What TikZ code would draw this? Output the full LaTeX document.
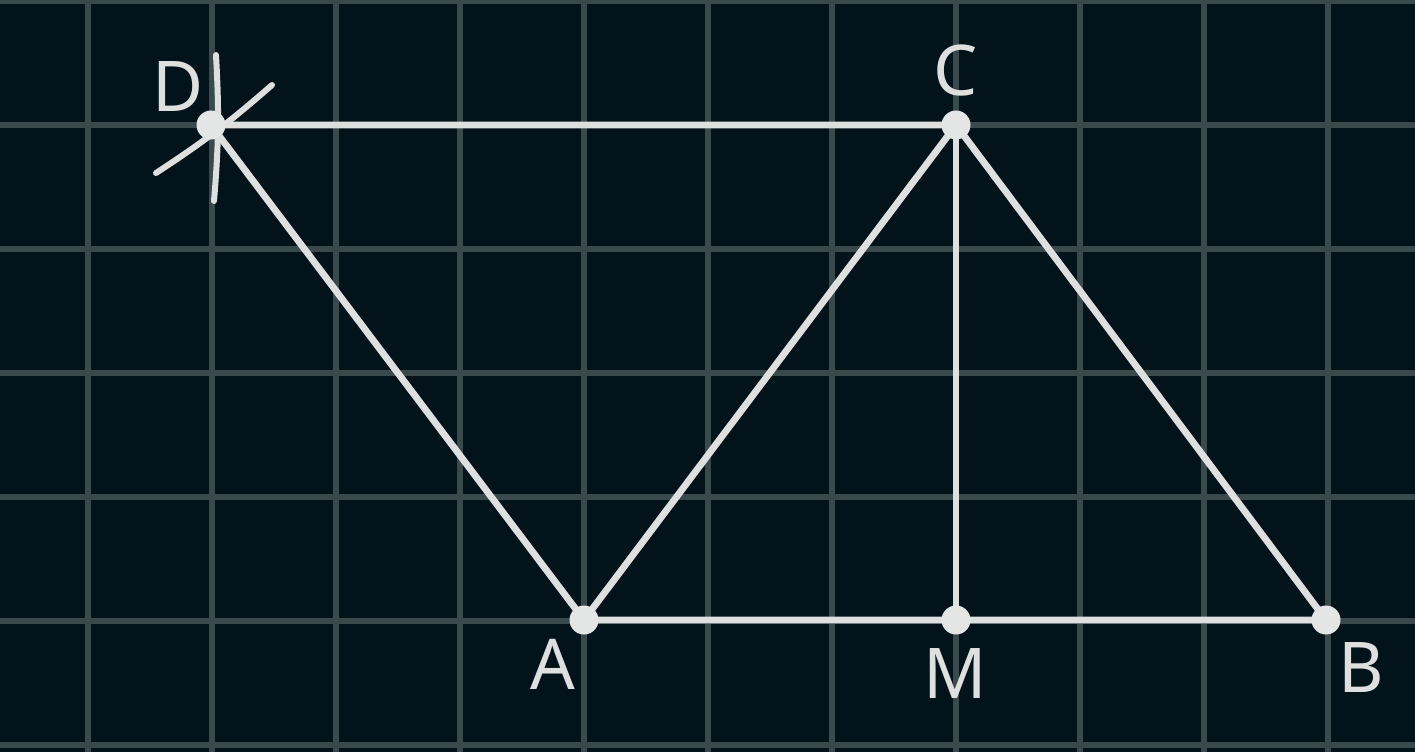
\documentclass[tikz,border=0pt]{standalone}
\usepackage{fontspec}
\setmainfont{Noto Sans}
\definecolor{bgc}{HTML}{03131A}
\definecolor{gridc}{HTML}{3A4A4C}
\definecolor{linec}{HTML}{DEDFDF}
\definecolor{dotc}{HTML}{E4E5E5}
\begin{document}
\begin{tikzpicture}[x=0.5pt,y=-0.5pt,
  seg/.style={draw=linec,line width=3.4pt},
  arcmark/.style={draw=linec,line width=3pt,line cap=round},
  dot/.style={circle,fill=dotc,inner sep=0pt,minimum size=14.5pt},
  lab/.style={text=linec,inner sep=0pt,font=\fontsize{35}{40}\selectfont}]
\fill[bgc] (0,0) rectangle (1415,752);
\useasboundingbox (0,0) rectangle (1415,752);
\foreach \x in {88,212,...,1328} \draw[gridc,line width=2.6pt] (\x,0) -- (\x,752);
\foreach \y in {1,125,...,745} \draw[gridc,line width=2.6pt] (0,\y) -- (1415,\y);
\coordinate (D) at (211,125);
\coordinate (C) at (956,125);
\coordinate (A) at (584,620);
\coordinate (M) at (956,620);
\coordinate (B) at (1326,620);
\coordinate (a1s) at (216,55);
\coordinate (a1e) at (214,201);
\coordinate (a2s) at (156,173);
\coordinate (a2e) at (272,85);
\draw[arcmark] (a1s) to[bend left=4] (a1e);
\draw[arcmark] (a2s) to[bend right=4] (a2e);
\draw[seg] (D) -- (C) -- (A) -- (D);
\draw[seg] (C) -- (M);
\draw[seg] (C) -- (B) -- (A);
\foreach \p in {D,C,A,M,B} \node[dot] (dot\p) at (\p) {};
\node[lab] (lD) at (178,86) {D};
\node[lab] (lC) at (956,70) {C};
\node[lab] (lA) at (553,664) {A};
\node[lab] (lM) at (955,673) {M};
\node[lab] (lB) at (1361,667) {B};
\end{tikzpicture}
\end{document}
